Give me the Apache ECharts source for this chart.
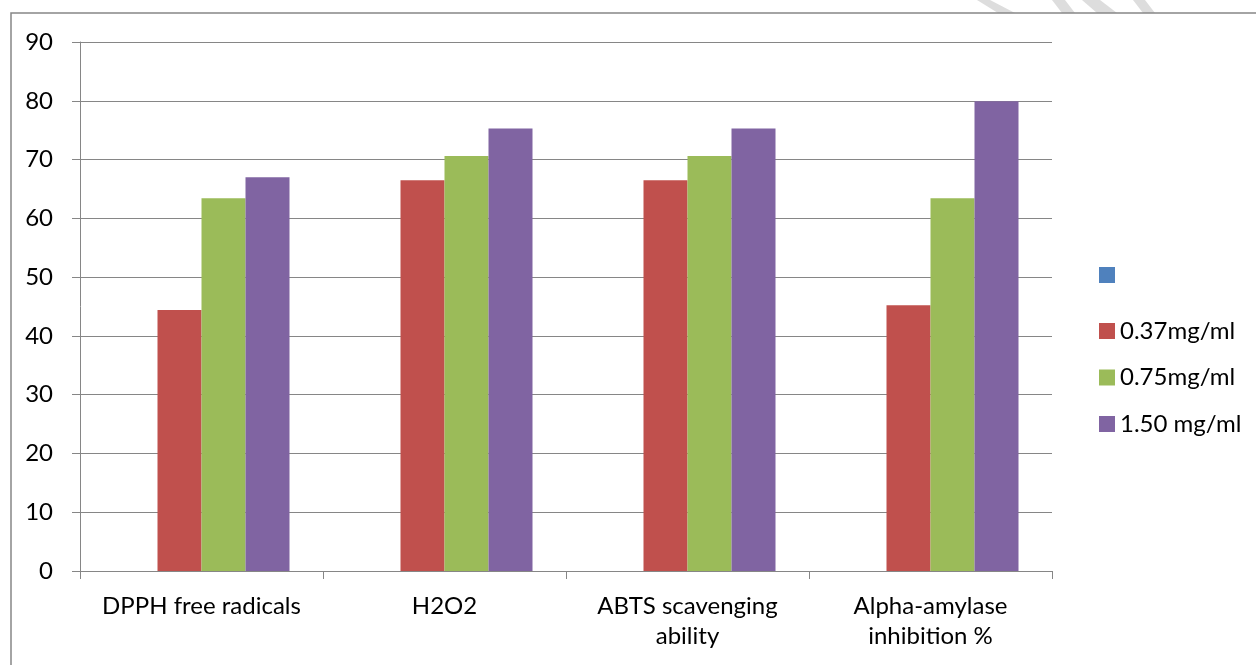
<!DOCTYPE html>
<html>
<head>
<meta charset="utf-8">
<script src="https://cdn.jsdelivr.net/npm/echarts@6/dist/echarts.min.js"></script>
<style>
html,body{margin:0;padding:0;background:#fff;}
#chart{width:1256px;height:665px;}
</style>
</head>
<body>
<div id="chart"></div>
<script>
// ---- data ----
var categories = ['DPPH free radicals', 'H2O2', 'ABTS scavenging\nability', 'Alpha-amylase\ninhibition %'];
var seriesNames = [' ', '0.37mg/ml', '0.75mg/ml', '1.50 mg/ml'];
var blankSeries = [null, null, null, null];
var conc037 = [44.4, 66.5, 66.5, 45.2];
var conc075 = [63.4, 70.6, 70.6, 63.4];
var conc150 = [67.0, 75.3, 75.3, 79.9];
var yTicks = { min: 0, max: 90, interval: 10 };

var colors = ['#4F81BD', '#C0504D', '#9BBB59', '#8064A2'];
var FONT = 'Lato';

var chart = echarts.init(document.getElementById('chart'), null, { renderer: 'canvas' });

function bar(name, data, color) {
  return {
    name: name, type: 'bar', data: data, barWidth: 44, barGap: '0%',
    itemStyle: { color: color },
    emphasis: { disabled: true }
  };
}

var option = {
  animation: false,
  backgroundColor: '#ffffff',
  color: colors,
  graphic: [
    { type: 'polygon', z: -10, shape: { points: [[977,0],[990,0],[1015,13],[998,13]] }, style: { fill: '#DDDDDD' } },
    { type: 'polygon', z: -10, shape: { points: [[1052,0],[1065,0],[1075,13],[1062,13]] }, style: { fill: '#DDDDDD' } },
    { type: 'polygon', z: -10, shape: { points: [[1082,0],[1100,0],[1117,13],[1097,13]] }, style: { fill: '#DDDDDD' } },
    { type: 'polygon', z: -10, shape: { points: [[1133,0],[1145,0],[1155,13],[1143,13]] }, style: { fill: '#DDDDDD' } },
    { type: 'rect', z: -5, shape: { x: 11, y: 13, width: 1300, height: 700 }, style: { fill: '#ffffff', stroke: '#868686', lineWidth: 1.5 } }
  ],
  grid: { left: 80, top: 42, right: 204, bottom: 94, containLabel: false },
  legend: [
    {
      data: [seriesNames[0]],
      left: 1094, top: 258, orient: 'vertical',
      itemWidth: 16, itemHeight: 16, itemGap: 22,
      icon: 'rect', selectedMode: false,
      textStyle: { fontFamily: FONT, fontSize: 24, color: '#000' }
    },
    {
      data: seriesNames.slice(1),
      left: 1094, top: 314, orient: 'vertical',
      itemWidth: 16, itemHeight: 16, itemGap: 22.5,
      icon: 'rect', selectedMode: false,
      textStyle: { fontFamily: FONT, fontSize: 24, color: '#000' }
    }
  ],
  xAxis: {
    type: 'category',
    data: categories,
    axisLine: { lineStyle: { color: '#868686', width: 1 } },
    axisTick: { show: true, alignWithLabel: false, length: 8, lineStyle: { color: '#868686' } },
    axisLabel: { fontFamily: FONT, fontSize: 24, color: '#000', margin: 20, lineHeight: 30, interval: 0 },
    splitLine: { show: false }
  },
  yAxis: {
    type: 'value',
    min: yTicks.min, max: yTicks.max, interval: yTicks.interval,
    axisLine: { show: true, lineStyle: { color: '#868686', width: 1 } },
    axisTick: { show: true, length: 8, lineStyle: { color: '#868686' } },
    axisLabel: { fontFamily: FONT, fontSize: 24, color: '#000', margin: 27 },
    splitLine: { show: true, lineStyle: { color: '#868686', width: 1 } }
  },
  series: [
    bar(seriesNames[0], blankSeries, colors[0]),
    bar(seriesNames[1], conc037, colors[1]),
    bar(seriesNames[2], conc075, colors[2]),
    bar(seriesNames[3], conc150, colors[3])
  ]
};
chart.setOption(option);
</script>
</body>
</html>
